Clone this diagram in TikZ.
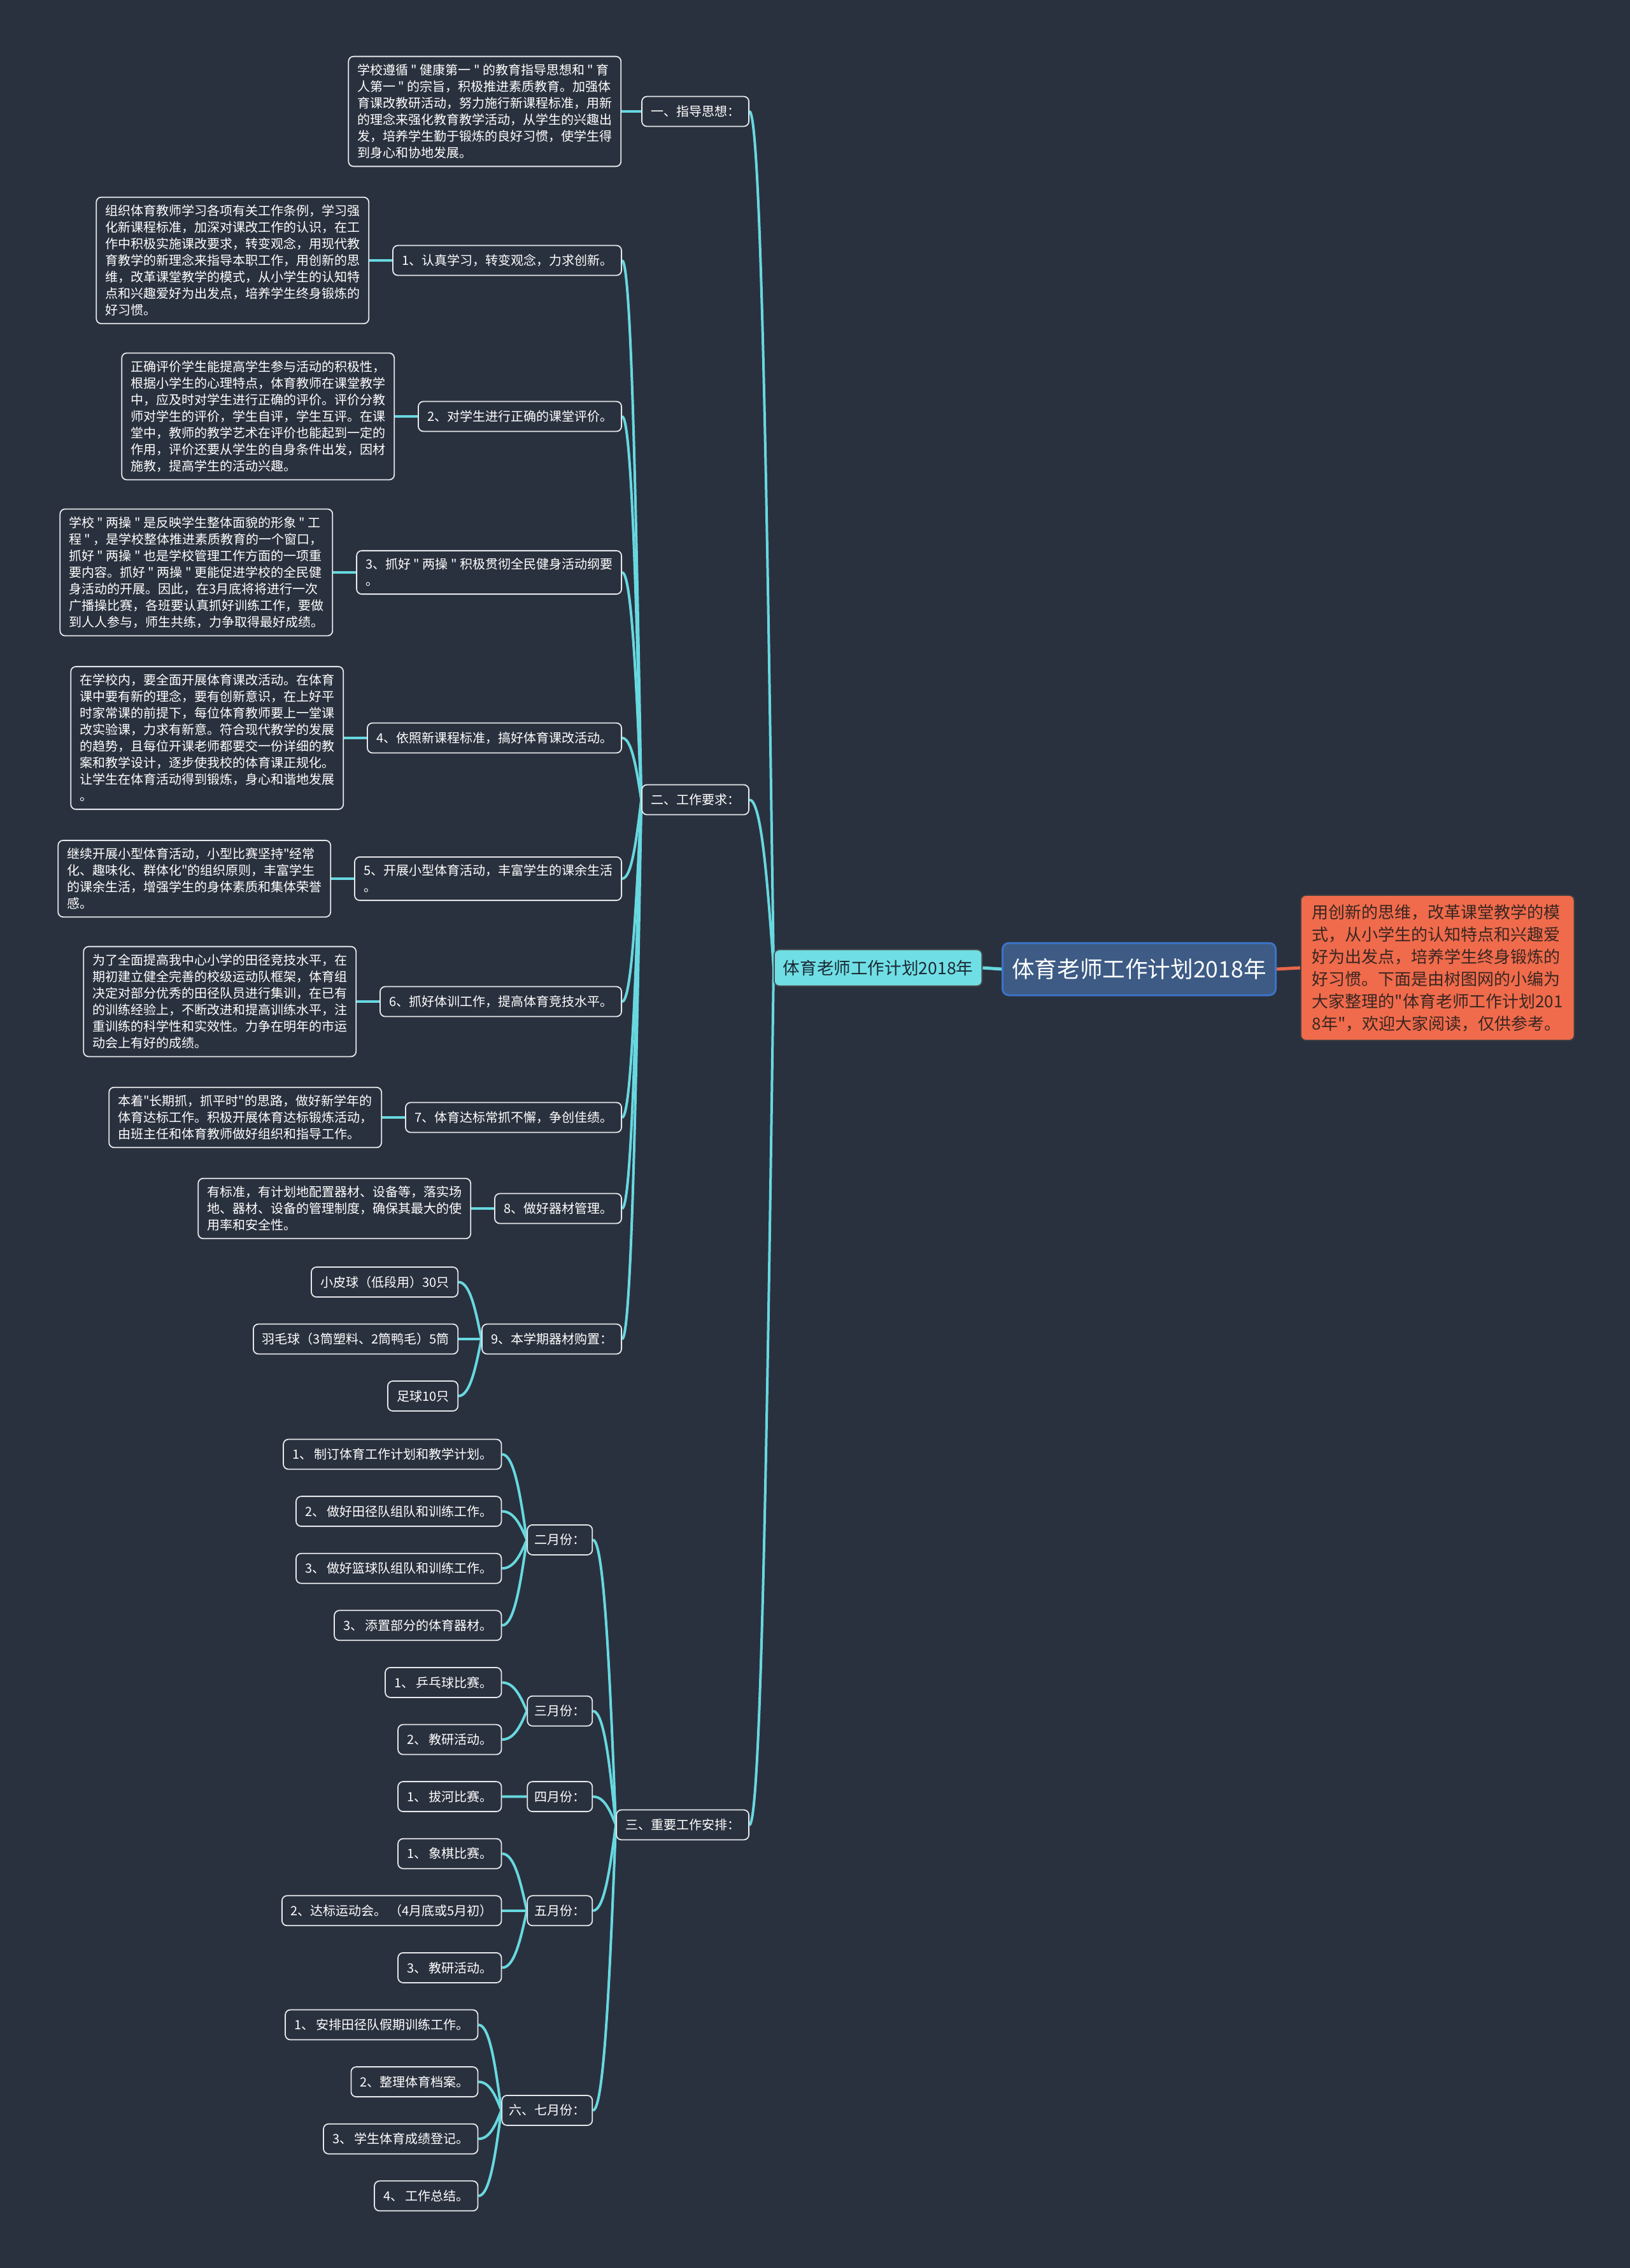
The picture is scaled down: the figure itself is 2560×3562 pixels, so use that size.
\documentclass[tikz,border=0pt]{standalone}
\usepackage{fontspec}
\setmainfont{Noto Sans CJK SC}[Ligatures=TeXOff]
\usetikzlibrary{calc,backgrounds}
\definecolor{bg}{HTML}{2A313E}
\definecolor{cyanline}{HTML}{67D8E0}
\definecolor{boxline}{HTML}{E6E9EC}
\definecolor{lvfill}{HTML}{6FDFE5}
\definecolor{lvtext}{HTML}{1D2833}
\definecolor{rootfill}{HTML}{3D5B84}
\definecolor{rootline}{HTML}{3B74C9}
\definecolor{orangefill}{HTML}{EF6B4C}
\definecolor{orangetext}{HTML}{3A2621}
\definecolor{orangeline}{HTML}{E8684A}
\newcommand\fsnorm{\fontsize{10pt}{13pt}\selectfont}
\tikzset{
  topic/.style={draw=boxline, fill=bg, rounded corners=4pt, line width=0.9pt, text=white,
    font=\fsnorm, inner xsep=7pt, inner ysep=6pt, align=left},
  single/.style={topic, minimum height=23.5pt},
  month/.style={single, inner xsep=5.5pt},
  link/.style={draw=cyanline, line width=2pt},
  rootst/.style={draw=rootline, fill=rootfill, rounded corners=5pt, line width=1.5pt, text=white,
    font=\fontsize{17.8pt}{20pt}\selectfont, minimum width=214.5pt, minimum height=41pt},
  lvst/.style={draw=black!70, fill=lvfill, rounded corners=4pt, line width=0.9pt, text=lvtext,
    font=\fontsize{13.3pt}{15pt}\selectfont, inner xsep=7pt, minimum height=28.5pt},
  orangest/.style={draw=black!75, fill=orangefill, rounded corners=4pt, line width=0.9pt, text=orangetext,
    font=\fontsize{13pt}{17.5pt}\selectfont, align=left, inner xsep=9pt, inner ysep=7pt}
}
\newcommand\conn[2]{\draw[link] let \p1=(#2.east), \p2=(#1.west) in (\p1) .. controls ({0.5*\x1+0.5*\x2},\y1) and ({0.25*\x1+0.75*\x2},{0.5*\y1+0.5*\y2}) .. (\p2);}
\begin{document}
\begin{tikzpicture}[x=0.5pt,y=-0.5pt]
\begin{pgfonlayer}{background}
\fill[bg] (0,0) rectangle (2560,3562);
\end{pgfonlayer}
\useasboundingbox (0,0) rectangle (2560,3562);

% root and intro
\node[rootst] (root) at (1789,1522) {体育老师工作计划2018年};
\node[orangest, anchor=west] (intro) at (2042,1520) {用创新的思维，改革课堂教学的模\\%
式，从小学生的认知特点和兴趣爱\\%
好为出发点，培养学生终身锻炼的\\%
好习惯。下面是由树图网的小编为\\%
大家整理的"体育老师工作计划201\\%
8年"，欢迎大家阅读，仅供参考。};
\node[lvst, anchor=west] (l1) at (1215,1520) {体育老师工作计划2018年};

% level 2
\node[single, anchor=east] (a) at (1177,175) {一、指导思想：};
\node[single, anchor=east] (b) at (1177,1256) {二、工作要求：};
\node[single, anchor=east] (c) at (1177,2866) {三、重要工作安排：};

\node[topic, anchor=east] (a0) at ($(a.west)+(-31,0)$) {学校遵循 " 健康第一 " 的教育指导思想和 " 育\\%
人第一 " 的宗旨，积极推进素质教育。加强体\\%
育课改教研活动，努力施行新课程标准，用新\\%
的理念来强化教育教学活动，从学生的兴趣出\\%
发，培养学生勤于锻炼的良好习惯，使学生得\\%
到身心和协地发展。};

% level 3 under b
\node[single, anchor=east] (b1) at (977,409) {1、认真学习，转变观念，力求创新。};
\node[single, anchor=east] (b2) at (977,654) {2、对学生进行正确的课堂评价。};
\node[topic, anchor=east] (b3) at (977,899) {3、抓好 " 两操 " 积极贯彻全民健身活动纲要\\%
。};
\node[single, anchor=east] (b4) at (977,1159) {4、依照新课程标准，搞好体育课改活动。};
\node[topic, anchor=east] (b5) at (977,1380) {5、开展小型体育活动，丰富学生的课余生活\\%
。};
\node[single, anchor=east] (b6) at (977,1573) {6、抓好体训工作，提高体育竞技水平。};
\node[single, anchor=east] (b7) at (977,1755) {7、体育达标常抓不懈，争创佳绩。};
\node[single, anchor=east] (b8) at (977,1898) {8、做好器材管理。};
\node[single, anchor=east] (b9) at (977,2103) {9、本学期器材购置：};

\node[topic, anchor=east] (t1) at ($(b1.west)+(-36,0)$) {组织体育教师学习各项有关工作条例，学习强\\%
化新课程标准，加深对课改工作的认识，在工\\%
作中积极实施课改要求，转变观念，用现代教\\%
育教学的新理念来指导本职工作，用创新的思\\%
维，改革课堂教学的模式，从小学生的认知特\\%
点和兴趣爱好为出发点，培养学生终身锻炼的\\%
好习惯。};
\node[topic, anchor=east] (t2) at ($(b2.west)+(-36,0)$) {正确评价学生能提高学生参与活动的积极性，\\%
根据小学生的心理特点，体育教师在课堂教学\\%
中，应及时对学生进行正确的评价。评价分教\\%
师对学生的评价，学生自评，学生互评。在课\\%
堂中，教师的教学艺术在评价也能起到一定的\\%
作用，评价还要从学生的自身条件出发，因材\\%
施教，提高学生的活动兴趣。};
\node[topic, anchor=east] (t3) at ($(b3.west)+(-36,0)$) {学校 " 两操 " 是反映学生整体面貌的形象 " 工\\%
程 " ，是学校整体推进素质教育的一个窗口，\\%
抓好 " 两操 " 也是学校管理工作方面的一项重\\%
要内容。抓好 " 两操 " 更能促进学校的全民健\\%
身活动的开展。因此，在3月底将将进行一次\\%
广播操比赛，各班要认真抓好训练工作，要做\\%
到人人参与，师生共练，力争取得最好成绩。};
\node[topic, anchor=east] (t4) at ($(b4.west)+(-36,0)$) {在学校内，要全面开展体育课改活动。在体育\\%
课中要有新的理念，要有创新意识，在上好平\\%
时家常课的前提下，每位体育教师要上一堂课\\%
改实验课，力求有新意。符合现代教学的发展\\%
的趋势，且每位开课老师都要交一份详细的教\\%
案和教学设计，逐步使我校的体育课正规化。\\%
让学生在体育活动得到锻炼，身心和谐地发展\\%
。};
\node[topic, anchor=east] (t5) at ($(b5.west)+(-36,0)$) {继续开展小型体育活动，小型比赛坚持"经常\\%
化、趣味化、群体化"的组织原则，丰富学生\\%
的课余生活，增强学生的身体素质和集体荣誉\\%
感。};
\node[topic, anchor=east] (t6) at ($(b6.west)+(-36,0)$) {为了全面提高我中心小学的田径竞技水平，在\\%
期初建立健全完善的校级运动队框架，体育组\\%
决定对部分优秀的田径队员进行集训，在已有\\%
的训练经验上，不断改进和提高训练水平，注\\%
重训练的科学性和实效性。力争在明年的市运\\%
动会上有好的成绩。};
\node[topic, anchor=east] (t7) at ($(b7.west)+(-36,0)$) {本着"长期抓，抓平时"的思路，做好新学年的\\%
体育达标工作。积极开展体育达标锻炼活动，\\%
由班主任和体育教师做好组织和指导工作。};
\node[topic, anchor=east] (t8) at ($(b8.west)+(-36,0)$) {有标准，有计划地配置器材、设备等，落实场\\%
地、器材、设备的管理制度，确保其最大的使\\%
用率和安全性。};

\node[single, anchor=east] (q1) at ($(b9.west)+(-36,-89.5)$) {小皮球（低段用）30只};
\node[single, anchor=east] (q2) at ($(b9.west)+(-36,0)$) {羽毛球（3筒塑料、2筒鸭毛）5筒};
\node[single, anchor=east] (q3) at ($(b9.west)+(-36,89.5)$) {足球10只};

% months
\node[month, anchor=east] (m2) at ($(c.west)+(-36,-447.6)$) {二月份：};
\node[month, anchor=east] (m3) at ($(c.west)+(-36,-178.8)$) {三月份：};
\node[month, anchor=east] (m4) at ($(c.west)+(-36,-44.4)$) {四月份：};
\node[month, anchor=east] (m5) at ($(c.west)+(-36,134.8)$) {五月份：};
\node[month, anchor=east] (m67) at ($(c.west)+(-36,448.4)$) {六、七月份：};

\node[single, anchor=east] (f1) at ($(m2.west)+(-39,-134.4)$) {1、\,制订体育工作计划和教学计划。};
\node[single, anchor=east] (f2) at ($(m2.west)+(-39,-44.8)$) {2、\,做好田径队组队和训练工作。};
\node[single, anchor=east] (f3) at ($(m2.west)+(-39,44.8)$) {3、\,做好篮球队组队和训练工作。};
\node[single, anchor=east] (f4) at ($(m2.west)+(-39,134.4)$) {3、\,添置部分的体育器材。};
\node[single, anchor=east] (r1) at ($(m3.west)+(-39,-44.8)$) {1、\,乒乓球比赛。};
\node[single, anchor=east] (r2) at ($(m3.west)+(-39,44.8)$) {2、\,教研活动。};
\node[single, anchor=east] (s1) at ($(m4.west)+(-39,0)$) {1、\,拔河比赛。};
\node[single, anchor=east] (v1) at ($(m5.west)+(-39,-89.6)$) {1、\,象棋比赛。};
\node[single, anchor=east] (v2) at ($(m5.west)+(-39,0)$) {2、达标运动会。\,（4月底或5月初）};
\node[single, anchor=east] (v3) at ($(m5.west)+(-39,89.6)$) {3、\,教研活动。};
\node[single, anchor=east] (w1) at ($(m67.west)+(-36,-134.4)$) {1、\,安排田径队假期训练工作。};
\node[single, anchor=east] (w2) at ($(m67.west)+(-36,-44.8)$) {2、整理体育档案。};
\node[single, anchor=east] (w3) at ($(m67.west)+(-36,44.8)$) {3、\,学生体育成绩登记。};
\node[single, anchor=east] (w4) at ($(m67.west)+(-36,134.4)$) {4、\,工作总结。};

\begin{pgfonlayer}{background}
\draw[link, line width=2.5pt] (root.west) -- (l1.east);
\draw[draw=orangeline, line width=2.5pt] (root.east) -- (intro.west);
\conn{l1}{a}\conn{l1}{b}\conn{l1}{c}
\draw[link] (a.west) -- (a0.east);
\conn{b}{b1}\conn{b}{b2}\conn{b}{b3}\conn{b}{b4}\conn{b}{b5}\conn{b}{b6}\conn{b}{b7}\conn{b}{b8}\conn{b}{b9}
\draw[link] (b1.west) -- (t1.east);
\draw[link] (b2.west) -- (t2.east);
\draw[link] (b3.west) -- (t3.east);
\draw[link] (b4.west) -- (t4.east);
\draw[link] (b5.west) -- (t5.east);
\draw[link] (b6.west) -- (t6.east);
\draw[link] (b7.west) -- (t7.east);
\draw[link] (b8.west) -- (t8.east);
\conn{b9}{q1}\conn{b9}{q2}\conn{b9}{q3}
\conn{c}{m2}\conn{c}{m3}\conn{c}{m4}\conn{c}{m5}\conn{c}{m67}
\conn{m2}{f1}\conn{m2}{f2}\conn{m2}{f3}\conn{m2}{f4}
\conn{m3}{r1}\conn{m3}{r2}
\conn{m4}{s1}
\conn{m5}{v1}\conn{m5}{v2}\conn{m5}{v3}
\conn{m67}{w1}\conn{m67}{w2}\conn{m67}{w3}\conn{m67}{w4}
\end{pgfonlayer}
\end{tikzpicture}
\end{document}
